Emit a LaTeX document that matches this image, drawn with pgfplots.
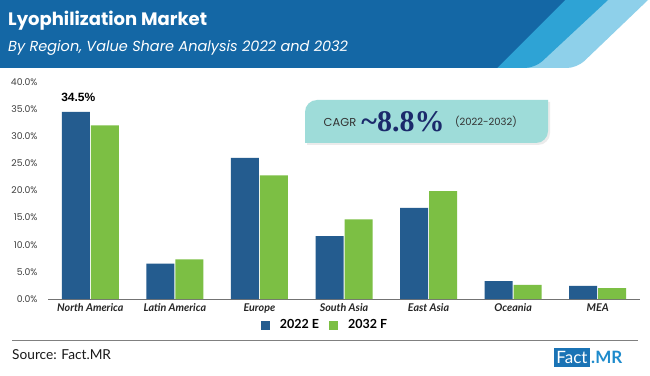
\documentclass[border=0pt]{standalone}
\usepackage{pgfplots}
\pgfplotsset{compat=1.18}
\usepackage{fontspec}
\setmainfont{Lato}
\newfontfamily\gothic{Poppins}
\newfontfamily\tnr{Liberation Serif}
\newfontfamily\arial{Liberation Sans}
\definecolor{dkband}{HTML}{1467A5}
\definecolor{mdband}{HTML}{2EA3D5}
\definecolor{ltband}{HTML}{8ED0EA}
\definecolor{barblue}{HTML}{245C8F}
\definecolor{bargreen}{HTML}{7CBF44}
\definecolor{cagrbox}{HTML}{9EDCD9}
\definecolor{navy}{HTML}{1B2A6B}
\definecolor{logoblue}{HTML}{1A73B5}
\definecolor{mrblue}{HTML}{1E8BCC}
\begin{document}
\begin{tikzpicture}[x=1pt,y=1pt]
\useasboundingbox (0,0) rectangle (650,375);
\fill[white] (0,0) rectangle (650,375);
% header band
\fill[ltband] (0,375) -- (648,375) {[rounded corners=10pt] -- (577,307) -- (500,307)} -- (0,307) -- cycle;
\fill[mdband] (0,375) -- (608,375) {[rounded corners=10pt] -- (535,307) -- (450,307)} -- (0,307) -- cycle;
\fill[dkband] (0,375) -- (565,375) -- (497,307) -- (0,307) -- cycle;
\node[anchor=west, text=white, inner sep=0, font=\gothic\bfseries\fontsize{18}{20}\selectfont] at (8,354) {Lyophilization Market};
\node[anchor=west, text=white, inner sep=0, font=\gothic\itshape\fontsize{14.5}{16}\selectfont] at (8,327) {By Region, Value Share Analysis 2022 and 2032};
% CAGR box
\fill[black!8] (307,230) -- (307,261) arc[start angle=180, end angle=90, radius=12] -- (550,273) -- (550,242) arc[start angle=0, end angle=-90, radius=12] -- cycle;
\fill[cagrbox] (305,232) -- (305,263) arc[start angle=180, end angle=90, radius=12] -- (548,275) -- (548,244) arc[start angle=0, end angle=-90, radius=12] -- cycle;
\node[text=black!80, font=\gothic\fontsize{11.5}{12}\selectfont] at (340,253) {CAGR};
\node[text=navy, font=\tnr\bfseries\fontsize{30}{32}\selectfont] at (403,253) {\textasciitilde8.8\%};
\node[text=black!80, font=\gothic\fontsize{10}{12}\selectfont] at (486,253) {(2022-2032)};
\begin{axis}[
  at={(48pt,76pt)}, anchor=south west,
  scale only axis, width=592pt, height=217pt,
  xmin=-0.5, xmax=6.5, ymin=0, ymax=40,
  ytick={0,5,...,40}, xtick={0,...,6},
  xticklabels={North America,Latin America,Europe,South Asia,East Asia,Oceania,MEA},
  ybar, bar width=28pt,
  axis x line*=bottom, axis y line*=left,
  y axis line style={draw=none},
  x axis line style={draw=black!55, line width=0.8pt},
  major tick length=0pt,
  /pgf/number format/assume math mode=true,
  yticklabel={\pgfmathprintnumber[fixed,fixed zerofill,precision=1]{\tick}\%},
  yticklabel style={font=\gothic\fontsize{9.3}{10}\selectfont, text=black!75, xshift=-7pt},
  xticklabel style={font=\bfseries\itshape\fontsize{10.7}{12}\selectfont, text=black!85, yshift=-1pt},
  legend style={at={(0.468,-0.12)}, anchor=center, draw=none, fill=none, legend columns=2,
    font=\bfseries\fontsize{12.5}{15}\selectfont, column sep=8pt},
  legend image code/.code={\fill[#1, draw=none] (0pt,-4.5pt) rectangle (9pt,4.5pt);},
]
\addplot[fill=barblue, draw=none, bar shift=-14.5pt] coordinates {(0,34.5) (1,6.5) (2,26.0) (3,11.6) (4,16.8) (5,3.3) (6,2.4)};
\addplot[fill=bargreen, draw=none, bar shift=14.5pt] coordinates {(0,32.0) (1,7.3) (2,22.8) (3,14.7) (4,19.9) (5,2.6) (6,2.0)};
\legend{2022 E, 2032 F}
\node[anchor=south, font=\arial\bfseries\fontsize{12}{14}\selectfont, xshift=-12pt, yshift=7pt] at (axis cs:0,34.5) {34.5\%};
\end{axis}
\draw[black!50, line width=1pt] (12,35) -- (638,35);
\node[anchor=west, inner sep=0, text=black!90, font=\fontsize{13.7}{15}\selectfont] at (12,20) {Source: Fact.MR};
\fill[logoblue] (554,8) rectangle (590,27);
\node[text=white, inner sep=0, font=\fontsize{17}{19}\selectfont] at (572,17.5) {Fact};
\node[anchor=west, text=mrblue, inner sep=0, font=\bfseries\fontsize{17}{19}\selectfont] at (591,17.5) {.MR};
\end{tikzpicture}
\end{document}
